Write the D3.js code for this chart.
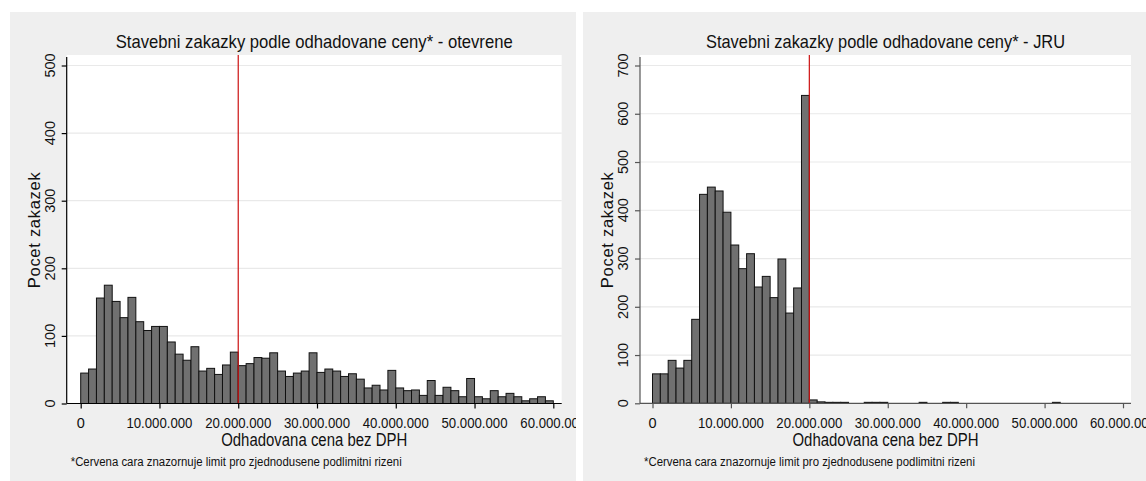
<!DOCTYPE html>
<html>
<head>
<meta charset="utf-8">
<script src="https://cdn.jsdelivr.net/npm/d3@7"></script>
<style>
  body { margin: 0; background: #fff; }
  svg { display: block; font-family: "Liberation Sans", Arial, sans-serif; }
</style>
</head>
<body>
<svg id="chart" width="1146" height="481"></svg>
<script>
// bins of 1.000.000 CZK, 0 - 60.000.000
var binStarts = d3.range(0, 60000000, 1000000);
var xTicks = [0, 10000000, 20000000, 30000000, 40000000, 50000000, 60000000];
var limitValue = 20000000;

var openCounts = [45, 51, 156, 175, 151, 127, 157, 121, 108, 114,
  114, 91, 73, 64, 84, 48, 52, 43, 57, 76,
  56, 59, 68, 67, 75, 48, 40, 45, 48, 75,
  46, 51, 48, 40, 44, 36, 23, 27, 20, 49,
  23, 19, 20, 12, 34, 12, 24, 19, 10, 37,
  10, 7, 19, 10, 15, 10, 4, 7, 10, 4];
var openTicks = [0, 100, 200, 300, 400, 500];

var jruCounts = [61, 61, 89, 73, 89, 174, 433, 448, 440, 396,
  328, 279, 310, 241, 263, 219, 299, 187, 239, 638,
  7, 3, 2, 2, 2, 0, 0, 2, 2, 2,
  0, 0, 0, 0, 2, 0, 0, 2, 2, 0,
  0, 0, 0, 0, 0, 0, 0, 0, 0, 0,
  0, 2, 0, 0, 0, 0, 0, 0, 0, 0];
var jruTicks = [0, 100, 200, 300, 400, 500, 600, 700];

var titles = ["Stavebni zakazky podle odhadovane ceny* - otevrene",
  "Stavebni zakazky podle odhadovane ceny* - JRU"];
var yTitle = "Pocet zakazek";
var xTitle = "Odhadovana cena bez DPH";
var note = "*Cervena cara znazornuje limit pro zjednodusene podlimitni rizeni";

var fmt = d3.formatLocale({ decimal: ",", thousands: ".", grouping: [3], currency: ["", ""] }).format(",");

var svg = d3.select("#chart");

function drawPanel(o) {
  var clipId = "clip" + o.id;
  svg.append("clipPath").attr("id", clipId)
    .append("rect").attr("x", o.px).attr("y", o.py).attr("width", o.pw).attr("height", o.ph);

  var g = svg.append("g").attr("clip-path", "url(#" + clipId + ")");
  g.append("rect").attr("x", o.px).attr("y", o.py).attr("width", o.pw).attr("height", o.ph)
    .attr("fill", "#efefef");
  g.append("rect").attr("x", o.left).attr("y", o.top).attr("width", o.right - o.left)
    .attr("height", o.yRange[0] - o.top).attr("fill", "#fff");

  var x = d3.scaleLinear().domain([0, 60000000]).range(o.xRange);
  var y = d3.scaleLinear().domain([0, o.yMax]).range(o.yRange);

  // grid
  g.selectAll(".grid").data(o.ticks.slice(1)).enter().append("line")
    .attr("x1", o.left).attr("x2", o.right)
    .attr("y1", function (d) { return y(d); }).attr("y2", function (d) { return y(d); })
    .attr("stroke", "#e9e9e9").attr("stroke-width", 1.2);

  // bars
  var bins = binStarts.map(function (b, i) { return { b: b, v: o.counts[i] }; })
    .filter(function (d) { return d.v > 0; });
  g.selectAll(".bar").data(bins).enter().append("rect")
    .attr("x", function (d) { return x(d.b); })
    .attr("width", function (d) { return x(d.b + 1000000) - x(d.b); })
    .attr("y", function (d) { return y(d.v); })
    .attr("height", function (d) { return y(0) - y(d.v); })
    .attr("fill", "#707070").attr("stroke", "#111").attr("stroke-width", 1);

  // limit line
  g.append("line").attr("x1", x(limitValue)).attr("x2", x(limitValue))
    .attr("y1", o.top).attr("y2", y(0))
    .attr("stroke", "#cc1111").attr("stroke-width", 1.2);

  // axes
  var ya = g.append("g").attr("transform", "translate(" + o.left + ",0)")
    .call(d3.axisLeft(y).tickValues(o.ticks).tickSize(5).tickFormat(""));
  ya.select(".domain").attr("d", "M0," + (o.top + 2) + "V" + y(0));
  ya.selectAll("path,line").attr("stroke", o.axisColor).attr("stroke-width", 1.2);

  var xa = g.append("g").attr("transform", "translate(0," + y(0) + ")")
    .call(d3.axisBottom(x).tickValues(xTicks).tickSize(5).tickFormat(""));
  xa.select(".domain").attr("d", "M" + o.left + ",0H" + o.right);
  xa.selectAll("path,line").attr("stroke", o.axisColor).attr("stroke-width", 1.2);

  // y tick labels (rotated)
  g.selectAll(".ylab").data(o.ticks).enter().append("text")
    .attr("transform", function (d) { return "translate(" + (o.left - 12) + "," + y(d) + ") rotate(-90)"; })
    .attr("text-anchor", "middle").attr("font-size", 14.5).attr("fill", "#111")
    .text(function (d) { return d; });

  // x tick labels
  g.selectAll(".xlab").data(xTicks).enter().append("text")
    .attr("x", function (d) { return x(d); }).attr("y", 428)
    .attr("text-anchor", "middle").attr("font-size", 14.5).attr("fill", "#111")
    .attr("textLength", function (d) { return d ? 66 : null; })
    .attr("lengthAdjust", "spacingAndGlyphs")
    .text(function (d) { return fmt(d); });

  var cx = (o.left + o.right) / 2;
  g.append("text").attr("x", cx).attr("y", 48).attr("text-anchor", "middle")
    .attr("font-size", 18.5).attr("fill", "#111")
    .attr("textLength", o.titleWidth).attr("lengthAdjust", "spacingAndGlyphs")
    .text(o.title);

  g.append("text").attr("x", cx).attr("y", 446).attr("text-anchor", "middle")
    .attr("font-size", 17.5).attr("fill", "#111")
    .attr("textLength", 186).attr("lengthAdjust", "spacingAndGlyphs")
    .text(xTitle);

  g.append("text")
    .attr("transform", "translate(" + (o.left - 27) + "," + ((o.top + y(0)) / 2 + 1) + ") rotate(-90)")
    .attr("text-anchor", "middle").attr("font-size", 16.5).attr("fill", "#111")
    .attr("textLength", 116).attr("lengthAdjust", "spacing")
    .text(yTitle);

  g.append("text").attr("x", o.left + 4).attr("y", 466)
    .attr("font-size", 12.5).attr("fill", "#111")
    .attr("textLength", 331).attr("lengthAdjust", "spacingAndGlyphs")
    .text(note);
}

drawPanel({
  id: 1, px: 10, py: 12, pw: 566, ph: 469,
  left: 66.7, right: 561.7, top: 55,
  xRange: [80.7, 553.3], yRange: [403.5, 65.5], yMax: 500,
  ticks: openTicks, counts: openCounts, axisColor: "#000",
  title: titles[0], titleWidth: 397
});
drawPanel({
  id: 2, px: 583, py: 12, pw: 563, ph: 469,
  left: 640, right: 1131, top: 55,
  xRange: [652.5, 1123], yRange: [403.3, 65.5], yMax: 700,
  ticks: jruTicks, counts: jruCounts, axisColor: "#555",
  title: titles[1], titleWidth: 359
});
</script>
</body>
</html>
